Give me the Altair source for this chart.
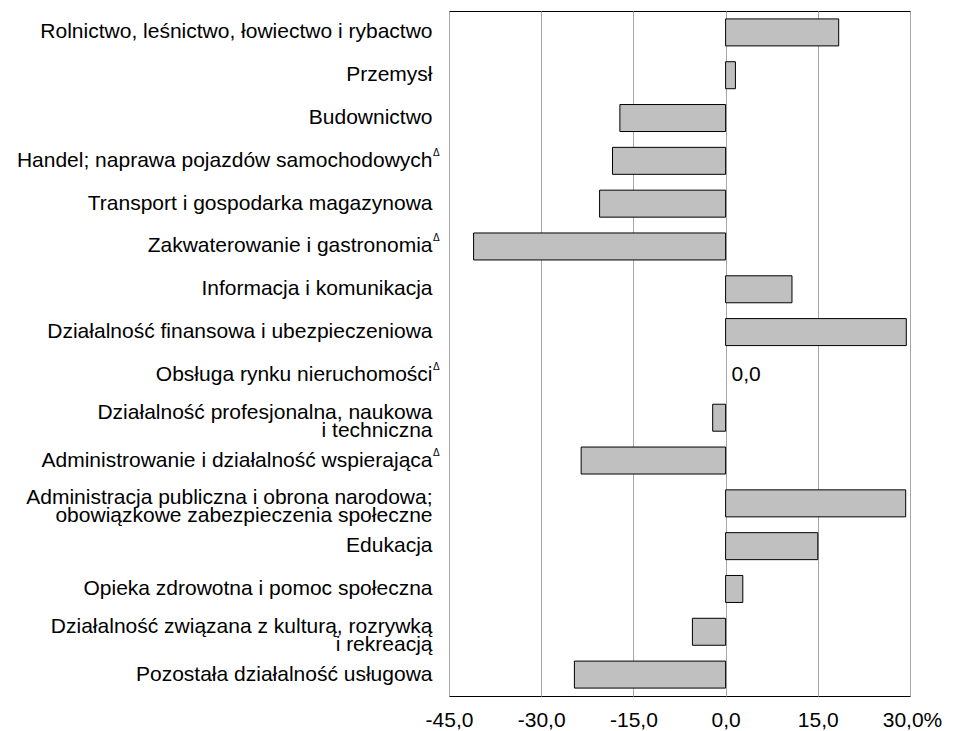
import altair as alt
import pandas as pd

categories = [
    "Rolnictwo, leśnictwo, łowiectwo i rybactwo",
    "Przemysł",
    "Budownictwo",
    "Handel; naprawa pojazdów samochodowych",
    "Transport i gospodarka magazynowa",
    "Zakwaterowanie i gastronomia",
    "Informacja i komunikacja",
    "Działalność finansowa i ubezpieczeniowa",
    "Obsługa rynku nieruchomości",
    "Działalność profesjonalna, naukowa|i techniczna",
    "Administrowanie i działalność wspierająca",
    "Administracja publiczna i obrona narodowa;|obowiązkowe zabezpieczenia społeczne",
    "Edukacja",
    "Opieka zdrowotna i pomoc społeczna",
    "Działalność związana z kulturą, rozrywką|i rekreacją",
    "Pozostała działalność usługowa",
]
values = [18.4, 1.6, -17.2, -18.4, -20.5, -41.0, 10.8, 29.4, 0.0, -2.1,
          -23.5, 29.3, 15.0, 2.8, -5.4, -24.6]
delta_flags = [False, False, False, True, False, True, False, False, True,
               False, True, False, False, False, False, False]
x_ticks = [-45, -30, -15, 0, 15, 30]

FONT = "Liberation Sans, Arial"
FS = 21

df = pd.DataFrame({
    "cat": categories,
    "value": values,
    "delta": delta_flags,
    "label": [f"{v:.1f}".replace(".", ",") for v in values],
})

y_enc = alt.Y(
    "cat:N",
    sort=None,
    scale=alt.Scale(domain=categories, paddingInner=0.37, paddingOuter=0.185),
    axis=alt.Axis(
        title=None,
        labelExpr="split(datum.label, '|')",
        labelFont=FONT,
        labelFontSize=FS,
        labelColor="black",
        labelLineHeight=18,
        labelPadding=17,
        labelLimit=700,
        labelOffset={"condition": {"test": "indexof(datum.label, '|') >= 0", "value": -5}, "value": 0},
        ticks=False,
        domain=False,
        grid=False,
    ),
)

x_scale = alt.Scale(domain=[-45, 30], nice=False, zero=False)
x_axis = alt.Axis(
    title=None,
    values=x_ticks,
    labelExpr="datum.value == 30 ? '30,0%' : (datum.value < 0 ? '-' : '') + replace(format(abs(datum.value), '.1f'), '.', ',')",
    labelOffset={"condition": {"test": "datum.value == 30", "value": 2}, "value": 0},
    labelFont=FONT,
    labelFontSize=FS,
    labelColor="black",
    labelPadding=13,
    ticks=False,
    domain=False,
    grid=True,
    gridColor="#a6a6a6",
    gridWidth=1,
    labelFlush=False,
)

base = alt.Chart(df)

bars = base.transform_filter("datum.value != 0").mark_bar(
    fill="#c0c0c0", stroke="black", strokeWidth=1
).encode(
    x=alt.X("value:Q", scale=x_scale, axis=x_axis),
    y=y_enc,
)

zero_lbl = base.transform_filter("datum.value == 0").mark_text(
    align="left", baseline="middle", dx=6, font=FONT, fontSize=FS, color="black"
).encode(
    x=alt.X("value:Q", scale=x_scale),
    y=alt.Y("cat:N", sort=None, scale=alt.Scale(domain=categories)),
    text="label:N",
)

deltas = base.transform_filter("datum.delta").mark_text(
    text="Δ", align="left", baseline="middle", dy=-8, font=FONT, fontSize=10, color="black"
).encode(
    x=alt.value(-16),
    y=alt.Y("cat:N", sort=None, scale=alt.Scale(domain=categories)),
)

chart = alt.layer(bars, zero_lbl, deltas).properties(
    width=461,
    height=685,
    padding={"left": 8, "top": 3, "right": 0, "bottom": 0},
).configure_view(stroke="black", strokeWidth=1)

chart.save("out.html", embed_options={"renderer": "svg", "actions": False})
